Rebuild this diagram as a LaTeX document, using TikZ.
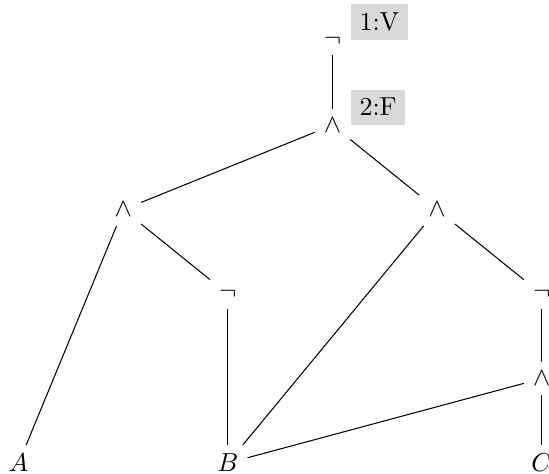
\documentclass[tikz,border=0pt]{standalone}
\usepackage{amsfonts,amssymb,amsmath}
\usepackage{tikz}

\begin{document}
\begin{tikzpicture}[node distance=1.142cm]
		\useasboundingbox (-4.495,0.550) rectangle (2.927,-5.858);
		\tikzset{val/.style={rectangle, fill=gray!30, anchor=south west}}

		% Operators
		\node (neg1) {$\neg$};
		\node (and1) [below of=neg1] {$\wedge$};
		\node (and2) [below of=and1, xshift=-2.828cm] {$\wedge$};
		\node (and3) [below of=and1, xshift=1.414cm] {$\wedge$};
		\node (neg2) [below of=and2, xshift=1.414cm] {$\neg$};
		\node (neg3) [below of=and3, xshift=1.414cm] {$\neg$};
		\node (and4) [below of=neg3] {$\wedge$};

		% Variables
		\node (varB) [below of=neg2, node distance=2.284cm] {$B$};
		\node (varA) [left of=varB, node distance=2.828cm] {$A$};
		\node (varC) [below of=and4] {$C$};

		% Edges
		\draw (neg1) -- (and1);
		\draw (and1) -- (and2);
		\draw (and1) -- (and3);
		\draw (and2) -- (varA);
		\draw (and2) -- (neg2);
		\draw (neg2) -- (varB);
		\draw (and3) -- (varB);
		\draw (and3) -- (neg3);
		\draw (neg3) -- (and4);
		\draw (and4) -- (varB);
		\draw (and4) -- (varC);

		% Values
		\node (val1) [val] at (neg1.east) {1:V};
		\node (val2) [val] at (and1.east) {2:F};
	\end{tikzpicture}
\end{document}
